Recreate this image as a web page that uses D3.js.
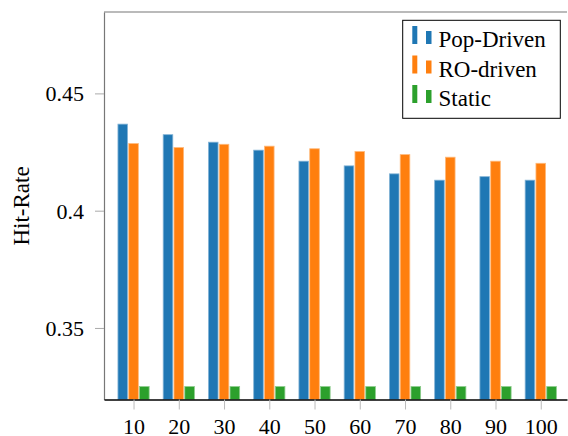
<!DOCTYPE html>
<html>
<head>
<meta charset="utf-8">
<script src="https://cdn.jsdelivr.net/npm/d3@7"></script>
<style>
  body { margin: 0; background: #fff; }
</style>
</head>
<body>
<div id="chart"></div>
<script>
const categories = [10, 20, 30, 40, 50, 60, 70, 80, 90, 100];
const popDriven = [0.4369, 0.4324, 0.4292, 0.4258, 0.4211, 0.4191, 0.4157, 0.4130, 0.4145, 0.4130];
const roDriven = [0.4286, 0.4269, 0.4283, 0.4275, 0.4264, 0.4252, 0.4239, 0.4228, 0.4211, 0.4202];
const staticRate = [0.325, 0.325, 0.325, 0.325, 0.325, 0.325, 0.325, 0.325, 0.325, 0.325];
const yTicks = [0.35, 0.4, 0.45];
const yTickLabels = ["0.35", "0.4", "0.45"];

const series = [
    { name: "Pop-Driven", values: popDriven, color: "#1f77b4", shift: -10.8 },
    { name: "RO-driven", values: roDriven, color: "#ff7f0e", shift: 0 },
    { name: "Static", values: staticRate, color: "#2ca02c", shift: 10.8 }
];

const serif = "Liberation Serif, Times New Roman, serif";
const w = 568;
const h = 436;
const plotLeft = 104, plotRight = 567, plotTop = 12, plotBottom = 399.5;
const barW = 9.6;

const x = d3.scaleLinear()
    .domain([3.47, 105.8])
    .range([plotLeft, plotRight]);
const y = d3.scaleLinear()
    .domain([0.3195, 0.4847])
    .range([plotBottom, plotTop]);

const svg = d3.select("#chart")
    .append("svg")
    .attr("width", w)
    .attr("height", h)
    .style("font-family", serif);

// bars
series.forEach(s => {
    const light = d3.interpolateRgb(s.color, "#ffffff")(0.45);
    svg.append("g")
        .selectAll("rect")
        .data(s.values)
        .enter()
        .append("rect")
        .attr("x", (d, i) => x(categories[i]) + s.shift - barW / 2)
        .attr("y", d => y(d))
        .attr("width", barW)
        .attr("height", d => plotBottom - y(d))
        .attr("fill", s.color)
        .attr("stroke", light)
        .attr("stroke-width", 0.8);
});

// frame: top line and left axis in grey
svg.append("line")
    .attr("x1", plotLeft).attr("x2", plotRight)
    .attr("y1", plotTop).attr("y2", plotTop)
    .attr("stroke", "#777").attr("stroke-width", 1.2);

const yAxis = d3.axisLeft(y)
    .tickValues(yTicks)
    .tickFormat((d, i) => yTickLabels[i])
    .tickSizeInner(9)
    .tickSizeOuter(0)
    .tickPadding(11);
const yAxisG = svg.append("g")
    .attr("transform", `translate(${plotLeft}, 0)`)
    .call(yAxis);
yAxisG.attr("font-family", null);
yAxisG.select(".domain").attr("stroke", "#777").attr("stroke-width", 1.2);
yAxisG.selectAll(".tick line").attr("stroke", "#aaa").attr("stroke-width", 1);
yAxisG.selectAll(".tick text")
    .style("font-family", serif)
    .style("font-size", "22px")
    .attr("fill", "#000")
    .attr("dy", "0.34em");

const xAxis = d3.axisBottom(x)
    .tickValues(categories)
    .tickFormat(d3.format("d"))
    .tickSizeInner(10)
    .tickSizeOuter(0)
    .tickPadding(8.5);
const xAxisG = svg.append("g")
    .attr("transform", `translate(0, ${plotBottom})`)
    .call(xAxis);
xAxisG.attr("font-family", null);
xAxisG.select(".domain").attr("stroke", "#000").attr("stroke-width", 1.3);
xAxisG.selectAll(".tick line").attr("stroke", "#bbb").attr("stroke-width", 1);
xAxisG.selectAll(".tick text")
    .style("font-family", serif)
    .style("font-size", "22px")
    .attr("fill", "#000");

// y label
svg.append("text")
    .attr("transform", `translate(29, ${206}) rotate(-90)`)
    .attr("text-anchor", "middle")
    .style("font-family", serif)
    .style("font-size", "23px")
    .text("Hit-Rate");

// legend
const legend = svg.append("g");
legend.append("rect")
    .attr("x", 402.7).attr("y", 20.3)
    .attr("width", 157.6).attr("height", 98)
    .attr("fill", "#fff")
    .attr("stroke", "#000")
    .attr("stroke-width", 1);

series.forEach((s, i) => {
    const base = 44 + i * 29.5;
    legend.append("rect")
        .attr("x", 412.3).attr("y", base - 18)
        .attr("width", 5).attr("height", 18)
        .attr("fill", s.color);
    legend.append("rect")
        .attr("x", 426).attr("y", base - 13)
        .attr("width", 5.5).attr("height", 13)
        .attr("fill", s.color);
    legend.append("text")
        .attr("x", 438.5)
        .attr("y", base + 3)
        .style("font-family", serif)
        .style("font-size", "23px")
        .text(s.name);
});
</script>
</body>
</html>
